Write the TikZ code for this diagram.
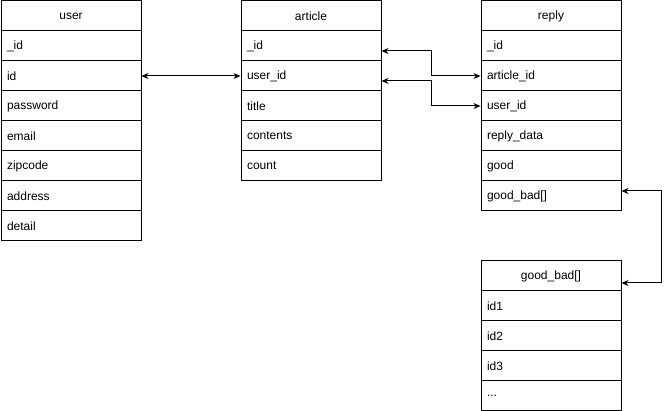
\documentclass[tikz,border=0pt]{standalone}
\usepackage{fontspec}
\setmainfont{Liberation Sans}
\usetikzlibrary{arrows.meta}
\begin{document}
\begin{tikzpicture}[x=1pt,y=-1pt,
  cell/.style={draw,line width=1pt,anchor=north west,minimum height=30pt,
    inner xsep=6pt,inner ysep=0pt,text width=128pt,align=left,
    font=\fontsize{12}{14}\selectfont},
  head/.style={cell,align=center},
  link/.style={line width=1pt,{Stealth[length=7pt,width=6pt]}-{Stealth[length=7pt,width=6pt]}}]
\useasboundingbox (0,0) rectangle (670,411);
% user
\node[head] (uh) at (0.5,0.5) {user};
\node[cell] (u1) at (0.5,30.5) {\_id};
\node[cell] (u2) at (0.5,60.5) {id};
\node[cell] (u3) at (0.5,90.5) {password};
\node[cell] (u4) at (0.5,120.5) {email};
\node[cell] (u5) at (0.5,150.5) {zipcode};
\node[cell] (u6) at (0.5,180.5) {address};
\node[cell] (u7) at (0.5,210.5) {detail};
% article
\node[head] (ah) at (240.5,0.5) {article};
\node[cell] (a1) at (240.5,30.5) {\_id};
\node[cell] (a2) at (240.5,60.5) {user\_id};
\node[cell] (a3) at (240.5,90.5) {title};
\node[cell] (a4) at (240.5,120.5) {contents};
\node[cell] (a5) at (240.5,150.5) {count};
% reply
\node[head] (rh) at (480.5,0.5) {reply};
\node[cell] (r1) at (480.5,30.5) {\_id};
\node[cell] (r2) at (480.5,60.5) {article\_id};
\node[cell] (r3) at (480.5,90.5) {user\_id};
\node[cell] (r4) at (480.5,120.5) {reply\_data};
\node[cell] (r5) at (480.5,150.5) {good};
\node[cell] (r6) at (480.5,180.5) {good\_bad[]};
% good_bad
\node[head] (gh) at (480.5,260.5) {good\_bad[]};
\node[cell] (g1) at (480.5,290.5) {id1};
\node[cell] (g2) at (480.5,320.5) {id2};
\node[cell] (g3) at (480.5,350.5) {id3};
\node[cell] (g4) at (480.5,380.5) {...};
% connectors
\draw[link] (u2.east) -- (a2.west);
\draw[link] ([yshift=-5pt]a1.east) -- ++(50,0) |- (r2.west);
\draw[link] ([yshift=-5pt]a2.east) -- ++(50,0) |- (r3.west);
\draw[link] ([yshift=5pt]r6.east) -- ++(40,0) |- ([yshift=-7pt]gh.east);
\end{tikzpicture}
\end{document}
